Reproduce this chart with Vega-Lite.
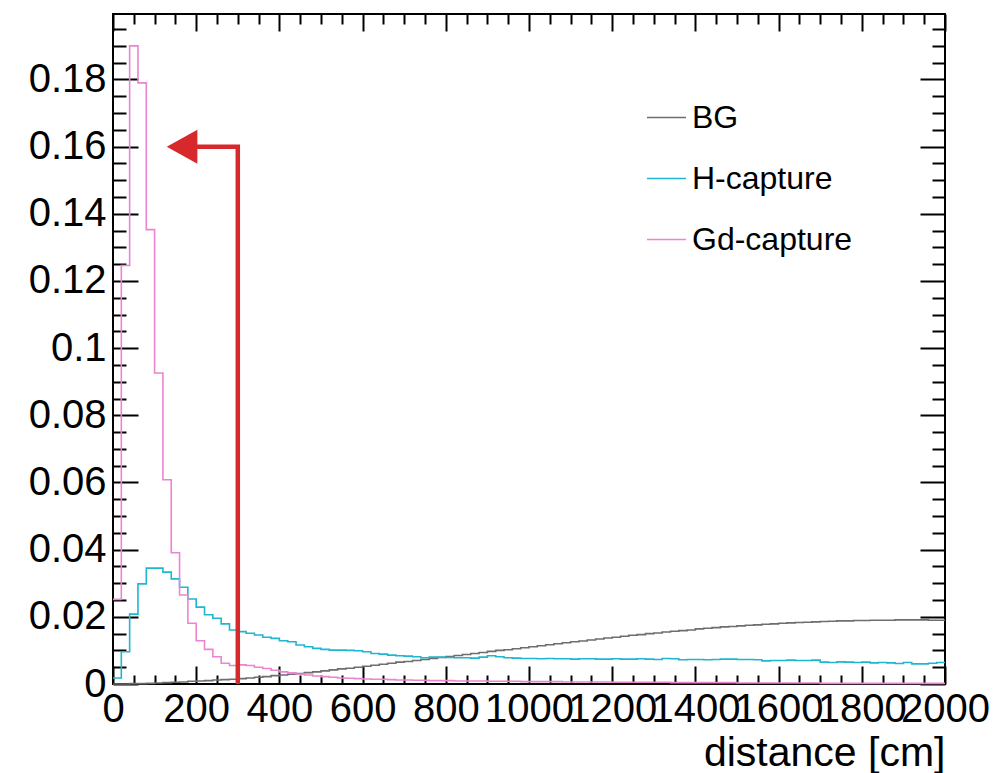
{
  "$schema": "https://vega.github.io/schema/vega-lite/v6.json",
  "width": 832,
  "height": 670,
  "autosize": {"type": "none"},
  "padding": {"left": 113, "top": 14, "right": 55, "bottom": 89},
  "background": "white",
  "datasets": {
    "hist": [
      {"d":0,"v":0,"s":"BG"},{"d":20,"v":0,"s":"BG"},{"d":40,"v":0.0001,"s":"BG"},{"d":60,"v":0.0001,"s":"BG"},{"d":80,"v":0.0002,"s":"BG"},{"d":100,"v":0.0003,"s":"BG"},{"d":120,"v":0.0004,"s":"BG"},{"d":140,"v":0.0005,"s":"BG"},{"d":160,"v":0.0006,"s":"BG"},{"d":180,"v":0.0008,"s":"BG"},
      {"d":200,"v":0.0009,"s":"BG"},{"d":220,"v":0.0010,"s":"BG"},{"d":240,"v":0.0012,"s":"BG"},{"d":260,"v":0.0013,"s":"BG"},{"d":280,"v":0.0014,"s":"BG"},{"d":300,"v":0.0016,"s":"BG"},{"d":320,"v":0.0018,"s":"BG"},{"d":340,"v":0.0020,"s":"BG"},{"d":360,"v":0.0022,"s":"BG"},{"d":380,"v":0.0025,"s":"BG"},
      {"d":400,"v":0.0027,"s":"BG"},{"d":420,"v":0.0029,"s":"BG"},{"d":440,"v":0.0031,"s":"BG"},{"d":460,"v":0.0034,"s":"BG"},{"d":480,"v":0.0036,"s":"BG"},{"d":500,"v":0.0039,"s":"BG"},{"d":520,"v":0.0042,"s":"BG"},{"d":540,"v":0.0045,"s":"BG"},{"d":560,"v":0.0047,"s":"BG"},{"d":580,"v":0.0050,"s":"BG"},
      {"d":600,"v":0.0053,"s":"BG"},{"d":620,"v":0.0056,"s":"BG"},{"d":640,"v":0.0059,"s":"BG"},{"d":660,"v":0.0062,"s":"BG"},{"d":680,"v":0.0065,"s":"BG"},{"d":700,"v":0.0067,"s":"BG"},{"d":720,"v":0.0070,"s":"BG"},{"d":740,"v":0.0073,"s":"BG"},{"d":760,"v":0.0076,"s":"BG"},{"d":780,"v":0.0079,"s":"BG"},
      {"d":800,"v":0.0082,"s":"BG"},{"d":820,"v":0.0085,"s":"BG"},{"d":840,"v":0.0088,"s":"BG"},{"d":860,"v":0.0091,"s":"BG"},{"d":880,"v":0.0094,"s":"BG"},{"d":900,"v":0.0097,"s":"BG"},{"d":920,"v":0.0100,"s":"BG"},{"d":940,"v":0.0102,"s":"BG"},{"d":960,"v":0.0105,"s":"BG"},{"d":980,"v":0.0108,"s":"BG"},
      {"d":1000,"v":0.0111,"s":"BG"},{"d":1020,"v":0.0114,"s":"BG"},{"d":1040,"v":0.0117,"s":"BG"},{"d":1060,"v":0.0120,"s":"BG"},{"d":1080,"v":0.0123,"s":"BG"},{"d":1100,"v":0.0126,"s":"BG"},{"d":1120,"v":0.0128,"s":"BG"},{"d":1140,"v":0.0131,"s":"BG"},{"d":1160,"v":0.0134,"s":"BG"},{"d":1180,"v":0.0137,"s":"BG"},
      {"d":1200,"v":0.0139,"s":"BG"},{"d":1220,"v":0.0142,"s":"BG"},{"d":1240,"v":0.0145,"s":"BG"},{"d":1260,"v":0.0147,"s":"BG"},{"d":1280,"v":0.0150,"s":"BG"},{"d":1300,"v":0.0152,"s":"BG"},{"d":1320,"v":0.0155,"s":"BG"},{"d":1340,"v":0.0157,"s":"BG"},{"d":1360,"v":0.0159,"s":"BG"},{"d":1380,"v":0.0161,"s":"BG"},
      {"d":1400,"v":0.0164,"s":"BG"},{"d":1420,"v":0.0166,"s":"BG"},{"d":1440,"v":0.0168,"s":"BG"},{"d":1460,"v":0.0170,"s":"BG"},{"d":1480,"v":0.0171,"s":"BG"},{"d":1500,"v":0.0173,"s":"BG"},{"d":1520,"v":0.0175,"s":"BG"},{"d":1540,"v":0.0176,"s":"BG"},{"d":1560,"v":0.0178,"s":"BG"},{"d":1580,"v":0.0179,"s":"BG"},
      {"d":1600,"v":0.0181,"s":"BG"},{"d":1620,"v":0.0182,"s":"BG"},{"d":1640,"v":0.0183,"s":"BG"},{"d":1660,"v":0.0184,"s":"BG"},{"d":1680,"v":0.0185,"s":"BG"},{"d":1700,"v":0.0186,"s":"BG"},{"d":1720,"v":0.0187,"s":"BG"},{"d":1740,"v":0.0188,"s":"BG"},{"d":1760,"v":0.0188,"s":"BG"},{"d":1780,"v":0.0189,"s":"BG"},
      {"d":1800,"v":0.0189,"s":"BG"},{"d":1820,"v":0.0190,"s":"BG"},{"d":1840,"v":0.0190,"s":"BG"},{"d":1860,"v":0.0190,"s":"BG"},{"d":1880,"v":0.0191,"s":"BG"},{"d":1900,"v":0.0191,"s":"BG"},{"d":1920,"v":0.0191,"s":"BG"},{"d":1940,"v":0.0191,"s":"BG"},{"d":1960,"v":0.0190,"s":"BG"},{"d":1980,"v":0.0190,"s":"BG"},{"d":2000,"v":0.0190,"s":"BG"},

      {"d":0,"v":0.0018,"s":"H-capture"},{"d":20,"v":0.0096,"s":"H-capture"},{"d":40,"v":0.0208,"s":"H-capture"},{"d":60,"v":0.0298,"s":"H-capture"},{"d":80,"v":0.0345,"s":"H-capture"},{"d":100,"v":0.0345,"s":"H-capture"},{"d":120,"v":0.0333,"s":"H-capture"},{"d":140,"v":0.0313,"s":"H-capture"},{"d":160,"v":0.0288,"s":"H-capture"},{"d":180,"v":0.0253,"s":"H-capture"},
      {"d":200,"v":0.0229,"s":"H-capture"},{"d":220,"v":0.0206,"s":"H-capture"},{"d":240,"v":0.0196,"s":"H-capture"},{"d":260,"v":0.0179,"s":"H-capture"},{"d":280,"v":0.0161,"s":"H-capture"},{"d":300,"v":0.0156,"s":"H-capture"},{"d":320,"v":0.0151,"s":"H-capture"},{"d":340,"v":0.0146,"s":"H-capture"},{"d":360,"v":0.0139,"s":"H-capture"},{"d":380,"v":0.0136,"s":"H-capture"},
      {"d":400,"v":0.0129,"s":"H-capture"},{"d":420,"v":0.0126,"s":"H-capture"},{"d":440,"v":0.0116,"s":"H-capture"},{"d":460,"v":0.0111,"s":"H-capture"},{"d":480,"v":0.0106,"s":"H-capture"},{"d":500,"v":0.0103,"s":"H-capture"},{"d":520,"v":0.0101,"s":"H-capture"},{"d":540,"v":0.0101,"s":"H-capture"},{"d":560,"v":0.0100,"s":"H-capture"},{"d":580,"v":0.0099,"s":"H-capture"},
      {"d":600,"v":0.0096,"s":"H-capture"},{"d":620,"v":0.0091,"s":"H-capture"},{"d":640,"v":0.0089,"s":"H-capture"},{"d":660,"v":0.0086,"s":"H-capture"},{"d":680,"v":0.0084,"s":"H-capture"},{"d":700,"v":0.0083,"s":"H-capture"},{"d":720,"v":0.0081,"s":"H-capture"},{"d":740,"v":0.0078,"s":"H-capture"},{"d":760,"v":0.0080,"s":"H-capture"},{"d":780,"v":0.0080,"s":"H-capture"},
      {"d":800,"v":0.0079,"s":"H-capture"},{"d":820,"v":0.0078,"s":"H-capture"},{"d":840,"v":0.0078,"s":"H-capture"},{"d":860,"v":0.0077,"s":"H-capture"},{"d":880,"v":0.0080,"s":"H-capture"},{"d":900,"v":0.0084,"s":"H-capture"},{"d":920,"v":0.0081,"s":"H-capture"},{"d":940,"v":0.0078,"s":"H-capture"},{"d":960,"v":0.0077,"s":"H-capture"},{"d":980,"v":0.0076,"s":"H-capture"},
      {"d":1000,"v":0.0076,"s":"H-capture"},{"d":1020,"v":0.0075,"s":"H-capture"},{"d":1040,"v":0.0076,"s":"H-capture"},{"d":1060,"v":0.0075,"s":"H-capture"},{"d":1080,"v":0.0075,"s":"H-capture"},{"d":1100,"v":0.0074,"s":"H-capture"},{"d":1120,"v":0.0075,"s":"H-capture"},{"d":1140,"v":0.0075,"s":"H-capture"},{"d":1160,"v":0.0074,"s":"H-capture"},{"d":1180,"v":0.0074,"s":"H-capture"},
      {"d":1200,"v":0.0075,"s":"H-capture"},{"d":1220,"v":0.0074,"s":"H-capture"},{"d":1240,"v":0.0074,"s":"H-capture"},{"d":1260,"v":0.0075,"s":"H-capture"},{"d":1280,"v":0.0074,"s":"H-capture"},{"d":1300,"v":0.0073,"s":"H-capture"},{"d":1320,"v":0.0076,"s":"H-capture"},{"d":1340,"v":0.0075,"s":"H-capture"},{"d":1360,"v":0.0072,"s":"H-capture"},{"d":1380,"v":0.0073,"s":"H-capture"},
      {"d":1400,"v":0.0073,"s":"H-capture"},{"d":1420,"v":0.0072,"s":"H-capture"},{"d":1440,"v":0.0073,"s":"H-capture"},{"d":1460,"v":0.0074,"s":"H-capture"},{"d":1480,"v":0.0074,"s":"H-capture"},{"d":1500,"v":0.0073,"s":"H-capture"},{"d":1520,"v":0.0073,"s":"H-capture"},{"d":1540,"v":0.0072,"s":"H-capture"},{"d":1560,"v":0.0069,"s":"H-capture"},{"d":1580,"v":0.0070,"s":"H-capture"},
      {"d":1600,"v":0.0070,"s":"H-capture"},{"d":1620,"v":0.0071,"s":"H-capture"},{"d":1640,"v":0.0070,"s":"H-capture"},{"d":1660,"v":0.0070,"s":"H-capture"},{"d":1680,"v":0.0071,"s":"H-capture"},{"d":1700,"v":0.0065,"s":"H-capture"},{"d":1720,"v":0.0064,"s":"H-capture"},{"d":1740,"v":0.0066,"s":"H-capture"},{"d":1760,"v":0.0065,"s":"H-capture"},{"d":1780,"v":0.0064,"s":"H-capture"},
      {"d":1800,"v":0.0065,"s":"H-capture"},{"d":1820,"v":0.0063,"s":"H-capture"},{"d":1840,"v":0.0064,"s":"H-capture"},{"d":1860,"v":0.0063,"s":"H-capture"},{"d":1880,"v":0.0061,"s":"H-capture"},{"d":1900,"v":0.0064,"s":"H-capture"},{"d":1920,"v":0.0060,"s":"H-capture"},{"d":1940,"v":0.0060,"s":"H-capture"},{"d":1960,"v":0.0062,"s":"H-capture"},{"d":1980,"v":0.0064,"s":"H-capture"},{"d":2000,"v":0.0064,"s":"H-capture"},

      {"d":0,"v":0.0252,"s":"Gd-capture"},{"d":20,"v":0.1246,"s":"Gd-capture"},{"d":40,"v":0.190,"s":"Gd-capture"},{"d":60,"v":0.179,"s":"Gd-capture"},{"d":80,"v":0.1353,"s":"Gd-capture"},{"d":100,"v":0.0926,"s":"Gd-capture"},{"d":120,"v":0.0608,"s":"Gd-capture"},{"d":140,"v":0.0391,"s":"Gd-capture"},{"d":160,"v":0.0265,"s":"Gd-capture"},{"d":180,"v":0.0181,"s":"Gd-capture"},
      {"d":200,"v":0.0129,"s":"Gd-capture"},{"d":220,"v":0.0103,"s":"Gd-capture"},{"d":240,"v":0.0081,"s":"Gd-capture"},{"d":260,"v":0.0062,"s":"Gd-capture"},{"d":280,"v":0.0055,"s":"Gd-capture"},{"d":300,"v":0.0057,"s":"Gd-capture"},{"d":320,"v":0.0055,"s":"Gd-capture"},{"d":340,"v":0.0050,"s":"Gd-capture"},{"d":360,"v":0.0046,"s":"Gd-capture"},{"d":380,"v":0.0041,"s":"Gd-capture"},
      {"d":400,"v":0.0036,"s":"Gd-capture"},{"d":420,"v":0.0033,"s":"Gd-capture"},{"d":440,"v":0.0030,"s":"Gd-capture"},{"d":460,"v":0.0027,"s":"Gd-capture"},{"d":480,"v":0.0024,"s":"Gd-capture"},{"d":500,"v":0.0022,"s":"Gd-capture"},{"d":520,"v":0.0020,"s":"Gd-capture"},{"d":540,"v":0.0018,"s":"Gd-capture"},{"d":560,"v":0.0017,"s":"Gd-capture"},{"d":580,"v":0.0016,"s":"Gd-capture"},
      {"d":600,"v":0.0015,"s":"Gd-capture"},{"d":620,"v":0.0014,"s":"Gd-capture"},{"d":640,"v":0.0014,"s":"Gd-capture"},{"d":660,"v":0.0013,"s":"Gd-capture"},{"d":680,"v":0.0012,"s":"Gd-capture"},{"d":700,"v":0.0012,"s":"Gd-capture"},{"d":720,"v":0.0011,"s":"Gd-capture"},{"d":740,"v":0.0011,"s":"Gd-capture"},{"d":760,"v":0.0010,"s":"Gd-capture"},{"d":780,"v":0.0010,"s":"Gd-capture"},
      {"d":800,"v":0.0010,"s":"Gd-capture"},{"d":820,"v":0.0009,"s":"Gd-capture"},{"d":840,"v":0.0009,"s":"Gd-capture"},{"d":860,"v":0.0009,"s":"Gd-capture"},{"d":880,"v":0.0009,"s":"Gd-capture"},{"d":900,"v":0.0008,"s":"Gd-capture"},{"d":920,"v":0.0008,"s":"Gd-capture"},{"d":940,"v":0.0008,"s":"Gd-capture"},{"d":960,"v":0.0008,"s":"Gd-capture"},{"d":980,"v":0.0007,"s":"Gd-capture"},
      {"d":1000,"v":0.0007,"s":"Gd-capture"},{"d":1020,"v":0.0007,"s":"Gd-capture"},{"d":1040,"v":0.0007,"s":"Gd-capture"},{"d":1060,"v":0.0007,"s":"Gd-capture"},{"d":1080,"v":0.0006,"s":"Gd-capture"},{"d":1100,"v":0.0006,"s":"Gd-capture"},{"d":1120,"v":0.0006,"s":"Gd-capture"},{"d":1140,"v":0.0006,"s":"Gd-capture"},{"d":1160,"v":0.0006,"s":"Gd-capture"},{"d":1180,"v":0.0006,"s":"Gd-capture"},
      {"d":1200,"v":0.0005,"s":"Gd-capture"},{"d":1220,"v":0.0005,"s":"Gd-capture"},{"d":1240,"v":0.0005,"s":"Gd-capture"},{"d":1260,"v":0.0005,"s":"Gd-capture"},{"d":1280,"v":0.0005,"s":"Gd-capture"},{"d":1300,"v":0.0005,"s":"Gd-capture"},{"d":1320,"v":0.0005,"s":"Gd-capture"},{"d":1340,"v":0.0004,"s":"Gd-capture"},{"d":1360,"v":0.0004,"s":"Gd-capture"},{"d":1380,"v":0.0004,"s":"Gd-capture"},
      {"d":1400,"v":0.0004,"s":"Gd-capture"},{"d":1420,"v":0.0004,"s":"Gd-capture"},{"d":1440,"v":0.0004,"s":"Gd-capture"},{"d":1460,"v":0.0004,"s":"Gd-capture"},{"d":1480,"v":0.0004,"s":"Gd-capture"},{"d":1500,"v":0.0003,"s":"Gd-capture"},{"d":1520,"v":0.0003,"s":"Gd-capture"},{"d":1540,"v":0.0003,"s":"Gd-capture"},{"d":1560,"v":0.0003,"s":"Gd-capture"},{"d":1580,"v":0.0003,"s":"Gd-capture"},
      {"d":1600,"v":0.0003,"s":"Gd-capture"},{"d":1620,"v":0.0003,"s":"Gd-capture"},{"d":1640,"v":0.0003,"s":"Gd-capture"},{"d":1660,"v":0.0003,"s":"Gd-capture"},{"d":1680,"v":0.0003,"s":"Gd-capture"},{"d":1700,"v":0.0002,"s":"Gd-capture"},{"d":1720,"v":0.0002,"s":"Gd-capture"},{"d":1740,"v":0.0002,"s":"Gd-capture"},{"d":1760,"v":0.0002,"s":"Gd-capture"},{"d":1780,"v":0.0002,"s":"Gd-capture"},
      {"d":1800,"v":0.0002,"s":"Gd-capture"},{"d":1820,"v":0.0002,"s":"Gd-capture"},{"d":1840,"v":0.0002,"s":"Gd-capture"},{"d":1860,"v":0.0002,"s":"Gd-capture"},{"d":1880,"v":0.0002,"s":"Gd-capture"},{"d":1900,"v":0.0002,"s":"Gd-capture"},{"d":1920,"v":0.0002,"s":"Gd-capture"},{"d":1940,"v":0.0002,"s":"Gd-capture"},{"d":1960,"v":0.0002,"s":"Gd-capture"},{"d":1980,"v":0.0002,"s":"Gd-capture"},{"d":2000,"v":0.0002,"s":"Gd-capture"}
    ],
    "shaft": [
      {"x": 300, "y": 0, "o": 1},
      {"x": 300, "y": 0.16, "o": 2},
      {"x": 190, "y": 0.16, "o": 3}
    ],
    "head": [
      {"x": 166, "y": 0.16}
    ]
  },
  "layer": [
    {
      "data": {"name": "hist"},
      "mark": {"type": "line", "interpolate": "step-after", "strokeWidth": 1.6},
      "encoding": {
        "x": {"field": "d", "type": "quantitative", "scale": {"domain": [0, 2000], "nice": false, "zero": false},
          "axis": {"orient": "bottom", "values": [0,200,400,600,800,1000,1200,1400,1600,1800,2000], "format": "d", "tickSize": -18, "labelPadding": 23, "labelFlush": false, "labelOverlap": false, "labelBound": false,
            "title": "distance [cm]", "titleAnchor": "end", "titleAlign": "right", "titleBaseline": "alphabetic", "titleX": 832, "titleY": 81}},
        "y": {"field": "v", "type": "quantitative", "scale": {"domain": [0, 0.1995], "nice": false},
          "axis": {"orient": "left", "values": [0,0.02,0.04,0.06,0.08,0.1,0.12,0.14,0.16,0.18], "format": "~g", "tickSize": -25, "labelPadding": 32, "labelOverlap": false, "labelBound": false, "title": null}},
        "color": {"field": "s", "type": "nominal",
          "scale": {"domain": ["BG", "H-capture", "Gd-capture"], "range": ["#6e6e6e", "#1eb6d0", "#ec84d2"]},
          "legend": {"orient": "none", "legendX": 533, "legendY": 83, "title": null, "symbolType": "stroke", "symbolSize": 1521, "symbolStrokeWidth": 1.6, "labelFontSize": 32, "labelFont": "Liberation Sans", "labelColor": "black", "labelOffset": 5, "rowPadding": 24, "padding": 0, "labelLimit": 400}}
      }
    },
    {
      "data": {"name": "shaft"},
      "mark": {"type": "line", "color": "#d7282b", "strokeWidth": 4.5, "strokeJoin": "miter", "strokeCap": "butt"},
      "encoding": {
        "x": {"field": "x", "type": "quantitative", "axis": {"orient": "bottom", "values": [50,100,150,250,300,350,450,500,550,650,700,750,850,900,950,1050,1100,1150,1250,1300,1350,1450,1500,1550,1650,1700,1750,1850,1900,1950], "tickSize": -9, "labels": false, "title": null}},
        "y": {"field": "y", "type": "quantitative", "axis": {"orient": "left", "values": [0.005,0.01,0.015,0.025,0.03,0.035,0.045,0.05,0.055,0.065,0.07,0.075,0.085,0.09,0.095,0.105,0.11,0.115,0.125,0.13,0.135,0.145,0.15,0.155,0.165,0.17,0.175,0.185,0.19,0.195], "tickSize": -13, "labels": false, "title": null}},
        "order": {"field": "o", "type": "quantitative"}
      }
    },
    {
      "data": {"name": "head"},
      "mark": {"type": "point", "shape": "M-0.9,0L0.9,-1L0.9,1Z", "filled": true, "color": "#d7282b", "size": 1156, "opacity": 1, "strokeWidth": 0},
      "encoding": {
        "x": {"field": "x", "type": "quantitative", "axis": {"orient": "top", "values": [0,200,400,600,800,1000,1200,1400,1600,1800,2000], "tickSize": -17, "labels": false, "title": null}},
        "y": {"field": "y", "type": "quantitative", "axis": {"orient": "right", "values": [0,0.02,0.04,0.06,0.08,0.1,0.12,0.14,0.16,0.18], "tickSize": -25, "labels": false, "title": null}}
      }
    },
    {
      "data": {"name": "head"},
      "mark": {"type": "point", "opacity": 0},
      "encoding": {
        "x": {"field": "x", "type": "quantitative", "axis": {"orient": "top", "values": [50,100,150,250,300,350,450,500,550,650,700,750,850,900,950,1050,1100,1150,1250,1300,1350,1450,1500,1550,1650,1700,1750,1850,1900,1950], "tickSize": -10, "labels": false, "title": null}},
        "y": {"field": "y", "type": "quantitative", "axis": {"orient": "right", "values": [0.005,0.01,0.015,0.025,0.03,0.035,0.045,0.05,0.055,0.065,0.07,0.075,0.085,0.09,0.095,0.105,0.11,0.115,0.125,0.13,0.135,0.145,0.15,0.155,0.165,0.17,0.175,0.185,0.19,0.195], "tickSize": -13, "labels": false, "title": null}}
      }
    }
  ],
  "resolve": {"axis": {"x": "independent", "y": "independent"}},
  "config": {
    "font": "Liberation Sans",
    "view": {"stroke": "black", "strokeWidth": 2},
    "axis": {"grid": false, "domain": false, "tickColor": "black", "tickWidth": 2, "labelFont": "Liberation Sans", "titleFont": "Liberation Sans", "labelColor": "black", "titleColor": "black", "labelFontSize": 40, "titleFontSize": 41, "titleFontWeight": "normal"}
  }
}
